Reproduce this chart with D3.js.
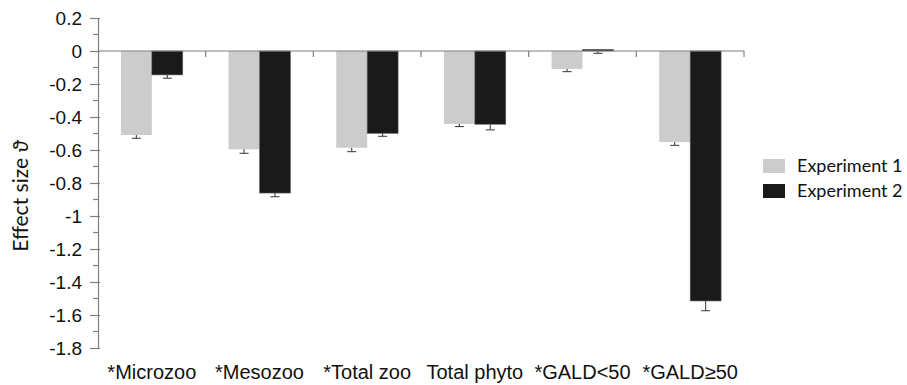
<!DOCTYPE html>
<html>
<head>
<meta charset="utf-8">
<script src="https://cdn.jsdelivr.net/npm/d3@7"></script>
<style>
  body { margin: 0; background: #fff; }
  svg { display: block; }
</style>
</head>
<body>
<svg id="chart"></svg>
<script>
var categories = ['*Microzoo', '*Mesozoo', '*Total zoo', 'Total phyto', '*GALD<50', '*GALD\u226550'];
var seriesNames = ['Experiment 1', 'Experiment 2'];
var exp1 = [-0.509, -0.596, -0.586, -0.442, -0.109, -0.552];
var exp2 = [-0.145, -0.861, -0.499, -0.444, 0.010, -1.515];
var exp1Err = [0.020, 0.024, 0.024, 0.016, 0.016, 0.020];
var exp2Err = [0.020, 0.022, 0.018, 0.034, 0.024, 0.059];
var yTicks = [0.2, 0, -0.2, -0.4, -0.6, -0.8, -1, -1.2, -1.4, -1.6, -1.8];

var width = 907, height = 385;
var colors = ['#cccccc', '#1a1a1a'];

var svg = d3.select('#chart').attr('width', width).attr('height', height);

var y = d3.scaleLinear().domain([-1.8, 0.2]).range([348, 18]);
var x0 = d3.scaleBand().domain(categories).range([98, 744]).padding(0);
var x1 = d3.scaleBand().domain(seriesNames).range([0, x0.bandwidth()])
  .paddingInner(0).paddingOuter(0.74);

var rows = categories.map(function(c, i) {
  return {
    cat: c,
    vals: [
      {name: seriesNames[0], v: exp1[i], e: exp1Err[i], color: colors[0]},
      {name: seriesNames[1], v: exp2[i], e: exp2Err[i], color: colors[1]}
    ]
  };
});

// bars
var groups = svg.selectAll('.grp').data(rows).enter().append('g')
  .attr('class', 'grp')
  .attr('transform', function(d) { return 'translate(' + x0(d.cat) + ',0)'; });

groups.selectAll('rect').data(function(d) { return d.vals; }).enter().append('rect')
  .attr('x', function(d) { return x1(d.name); })
  .attr('y', function(d) { return Math.min(y(d.v), y(0)); })
  .attr('width', x1.bandwidth())
  .attr('height', function(d) { return Math.abs(y(d.v) - y(0)); })
  .attr('fill', function(d) { return d.color; })
  .attr('stroke', function(d, i) { return i === 1 ? '#666' : 'none'; })
  .attr('stroke-width', 0.6);

// error bars (minus side)
var eb = groups.selectAll('.err').data(function(d) { return d.vals; }).enter().append('g')
  .attr('class', 'err')
  .attr('stroke', '#444').attr('stroke-width', 1.1);
eb.append('line')
  .attr('x1', function(d) { return x1(d.name) + x1.bandwidth() / 2; })
  .attr('x2', function(d) { return x1(d.name) + x1.bandwidth() / 2; })
  .attr('y1', function(d) { return y(d.v); })
  .attr('y2', function(d) { return y(d.v - d.e); });
eb.append('line')
  .attr('x1', function(d) { return x1(d.name) + x1.bandwidth() / 2 - 4.5; })
  .attr('x2', function(d) { return x1(d.name) + x1.bandwidth() / 2 + 4.5; })
  .attr('y1', function(d) { return y(d.v - d.e); })
  .attr('y2', function(d) { return y(d.v - d.e); });

// zero line with category ticks
var zero = svg.append('g').attr('stroke', '#808080').attr('stroke-width', 1.2);
zero.append('line')
  .attr('x1', x0.range()[0]).attr('x2', x0.range()[1])
  .attr('y1', y(0)).attr('y2', y(0));
zero.selectAll('.ct').data(categories).enter().append('line')
  .attr('x1', function(d) { return x0(d) + x0.bandwidth(); })
  .attr('x2', function(d) { return x0(d) + x0.bandwidth(); })
  .attr('y1', y(0)).attr('y2', y(0) + 6);

// y axis
var yAxis = d3.axisLeft(y).tickValues(yTicks).tickSize(8).tickPadding(8)
  .tickFormat(function(d) { return d3.format('')(+d.toFixed(1)).replace('\u2212', '-'); });
var ga = svg.append('g').attr('transform', 'translate(98,0)').call(yAxis);
ga.select('.domain').attr('stroke', '#808080').attr('stroke-width', 1.2);
ga.selectAll('.tick line').attr('stroke', '#808080').attr('stroke-width', 1.2).attr('x2', -8).attr('x1', 2);
ga.selectAll('.tick text')
  .attr('font-family', 'Liberation Sans, Arial, sans-serif')
  .attr('font-size', 19).attr('fill', '#111').attr('x', -16);

// minor ticks
var minor = d3.range(0, 10).map(function(i) { return yTicks[i] - 0.1; });
svg.append('g').selectAll('line').data(minor).enter().append('line')
  .attr('x1', 93).attr('x2', 98)
  .attr('y1', function(d) { return y(d); }).attr('y2', function(d) { return y(d); })
  .attr('stroke', '#808080').attr('stroke-width', 1.2);

// category labels
svg.append('g').selectAll('text').data(categories).enter().append('text')
  .attr('x', function(d) { return x0(d) + x0.bandwidth() / 2; })
  .attr('y', 379)
  .attr('text-anchor', 'middle')
  .attr('font-family', 'Liberation Sans, Arial, sans-serif')
  .attr('font-size', 20).attr('fill', '#111')
  .text(function(d) { return d; });

// y label
var yl = svg.append('text')
  .attr('transform', 'translate(28,196) rotate(-90)')
  .attr('text-anchor', 'middle')
  .attr('font-family', 'Lato, sans-serif')
  .attr('font-size', 21).attr('fill', '#111');
yl.append('tspan').text('Effect size ');
yl.append('tspan').attr('font-style', 'italic').text('\u03d1');

// legend
var leg = svg.append('g').selectAll('g').data(seriesNames).enter().append('g')
  .attr('transform', function(d, i) { return 'translate(763,' + (159 + i * 25) + ')'; });
leg.append('rect').attr('width', 22).attr('height', 14)
  .attr('fill', function(d, i) { return colors[i]; });
leg.append('text').attr('x', 34).attr('y', 12.5)
  .attr('font-family', 'Lato, sans-serif')
  .attr('font-size', 18).attr('fill', '#111')
  .text(function(d) { return d; });
</script>
</body>
</html>
